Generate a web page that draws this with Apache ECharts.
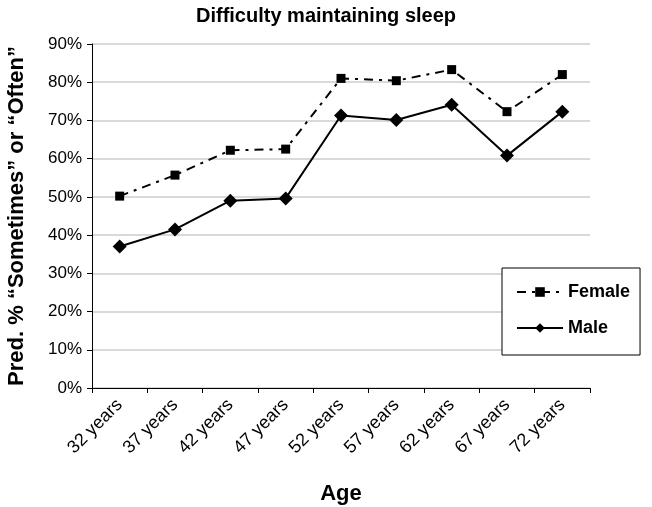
<!DOCTYPE html>
<html><head><meta charset="utf-8">
<script src="https://cdn.jsdelivr.net/npm/echarts@6/dist/echarts.min.js"></script>
<style>html,body{margin:0;padding:0;background:#fff}#c{width:652px;height:507px}</style>
</head><body><div id="c"></div>
<script>
var categories = ['32 years','37 years','42 years','47 years','52 years','57 years','62 years','67 years','72 years'];
var female = [50.2, 55.7, 62.2, 62.5, 81.0, 80.4, 83.3, 72.3, 82.0];
var male = [37.0, 41.5, 49.0, 49.6, 71.3, 70.1, 74.1, 60.8, 72.3];
var yTicks = [0,10,20,30,40,50,60,70,80,90];

var FONT = "'Liberation Sans Narrow','Arial Narrow','Liberation Sans',Arial,sans-serif";
var chart = echarts.init(document.getElementById('c'), null, {renderer:'canvas'});
chart.setOption({
  animation:false,
  backgroundColor:'#fff',
  title:{text:'Difficulty maintaining sleep', left:'center', top:1,
    textStyle:{fontFamily:FONT, fontSize:20, fontWeight:'bold', color:'#000'}},
  grid:{left:92, right:62, top:44, bottom:119, containLabel:false, outerBoundsMode:'none'},
  legend:{
    orient:'vertical', left:502, top:268,
    padding:[15,10,18,14], itemGap:18,
    borderColor:'#000', borderWidth:1, backgroundColor:'#fff',
    itemWidth:46, itemHeight:12,
    textStyle:{fontFamily:FONT, fontSize:18, fontWeight:'bold', color:'#000'},
    data:['Female','Male']
  },
  xAxis:{type:'category', data:categories, boundaryGap:true,
    axisLine:{lineStyle:{color:'#000', width:1}},
    axisTick:{show:true, length:5, lineStyle:{color:'#000'}},
    axisLabel:{rotate:45, fontFamily:FONT, fontSize:18, color:'#000', margin:14},
    name:'Age', nameLocation:'middle', nameGap:95,
    nameTextStyle:{fontFamily:FONT, fontSize:22, fontWeight:'bold', color:'#000'}
  },
  yAxis:{type:'value', min:yTicks[0], max:yTicks[yTicks.length-1], interval:10,
    axisLine:{show:true, lineStyle:{color:'#000'}},
    axisTick:{show:true, length:5, lineStyle:{color:'#000'}},
    splitLine:{lineStyle:{color:'#cccccc', width:1.5}},
    axisLabel:{formatter:function(v){return v+'%';}, fontFamily:FONT, fontSize:17, color:'#000', margin:10},
    name:'Pred. % \u201CSometimes\u201D or \u201COften\u201D', nameLocation:'middle', nameGap:64,
    nameTextStyle:{fontFamily:FONT, fontSize:22, fontWeight:'bold', color:'#000'}
  },
  series:[
    {name:'Female', type:'line', data:female, symbol:'rect', symbolSize:9,
      itemStyle:{color:'#000'}, lineStyle:{color:'#000', width:2, type:[9,6,3,6]}},
    {name:'Male', type:'line', data:male, symbol:'diamond', symbolSize:14,
      itemStyle:{color:'#000'}, lineStyle:{color:'#000', width:2}}
  ]
});
</script></body></html>
